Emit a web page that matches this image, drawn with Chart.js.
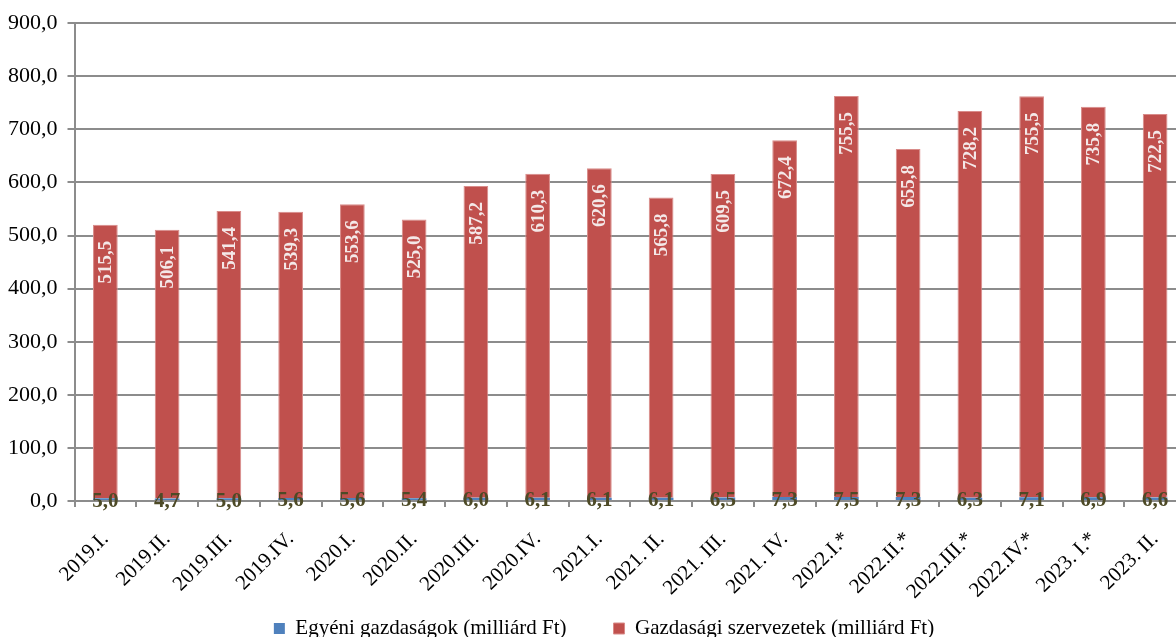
<!DOCTYPE html>
<html>
<head>
<meta charset="utf-8">
<script src="https://cdn.jsdelivr.net/npm/chart.js@4"></script>
<style>
  html, body { margin: 0; padding: 0; background: #fff; overflow: hidden; }
  #wrap { width: 1190px; height: 637px; position: relative; }
</style>
</head>
<body>
<div id="wrap"><canvas id="c"></canvas></div>
<script>
const categories = ['2019.I.', '2019.II.', '2019.III.', '2019.IV.', '2020.I.', '2020.II.', '2020.III.', '2020.IV.', '2021.I.', '2021. II.', '2021. III.', '2021. IV.', '2022.I.*', '2022.II.*', '2022.III.*', '2022.IV.*', '2023. I.*', '2023. II.'];
const egyeniValues = [5.0, 4.7, 5.0, 5.6, 5.6, 5.4, 6.0, 6.1, 6.1, 6.1, 6.5, 7.3, 7.5, 7.3, 6.3, 7.1, 6.9, 6.6];
const gazdValues = [515.5, 506.1, 541.4, 539.3, 553.6, 525.0, 587.2, 610.3, 620.6, 565.8, 609.5, 672.4, 755.5, 655.8, 728.2, 755.5, 735.8, 722.5];
const seriesNames = ['Egyéni gazdaságok (milliárd Ft)', 'Gazdasági szervezetek (milliárd Ft)'];
const yMin = 0, yMax = 900, yStep = 100;

const SERIF = "'Liberation Serif', 'Times New Roman', serif";
const fmt = v => v.toFixed(1).replace('.', ',');

const labelPlugin = {
  id: 'valueLabels',
  afterLayout(chart) {
    chart.scales.x._computeLabelArea = () => undefined;
    if (chart.legend) { chart.legend.left += 12; chart.legend.right += 12; }
  },
  afterDatasetsDraw(chart) {
    const ctx = chart.ctx;
    ctx.save();
    const m0 = chart.getDatasetMeta(0);
    ctx.font = 'bold 21px ' + SERIF;
    ctx.fillStyle = '#4d4a26';
    ctx.textAlign = 'center';
    ctx.textBaseline = 'middle';
    m0.data.forEach((bar, i) => {
      const y = (bar.y + bar.base) / 2 + 2;
      ctx.fillText(fmt(chart.data.datasets[0].data[i]), bar.x, y);
    });
    const m1 = chart.getDatasetMeta(1);
    ctx.font = 'bold 19px ' + SERIF;
    ctx.fillStyle = '#f4e8e8';
    m1.data.forEach((bar, i) => {
      ctx.save();
      ctx.translate(bar.x, bar.y + 16);
      ctx.rotate(-Math.PI / 2);
      ctx.textAlign = 'right';
      ctx.textBaseline = 'middle';
      ctx.fillText(fmt(chart.data.datasets[1].data[i]), 0, 1);
      ctx.restore();
    });
    ctx.restore();
  }
};

new Chart(document.getElementById('c'), {
  type: 'bar',
  data: {
    labels: categories,
    datasets: [
      { label: seriesNames[0], data: egyeniValues, backgroundColor: '#4F81BD', borderWidth: 0,
        barPercentage: 0.4, categoryPercentage: 1.0 },
      { label: seriesNames[1], data: gazdValues, backgroundColor: '#C0504D', borderColor: '#d98c8a', borderWidth: 1,
        barPercentage: 0.4, categoryPercentage: 1.0 }
    ]
  },
  options: {
    responsive: true,
    maintainAspectRatio: false,
    animation: false,
    devicePixelRatio: 1,
    layout: { padding: { left: -2, right: 4, top: 12, bottom: -12 } },
    plugins: {
      legend: {
        position: 'bottom',
        labels: {
          font: { family: SERIF, size: 21 },
          color: '#000',
          boxWidth: 11,
          boxHeight: 11,
          padding: 47
        }
      },
      tooltip: { enabled: false }
    },
    scales: {
      x: {
        stacked: true,
        grid: { display: true, drawOnChartArea: false, drawTicks: true, tickLength: 6, color: '#8c8c8c', lineWidth: 2, offset: true },
        border: { display: true, color: '#8c8c8c', width: 2 },
        ticks: { font: { family: SERIF, size: 21 }, color: '#000', minRotation: 45, maxRotation: 45, autoSkip: false, padding: 20 },
        afterFit: (scale) => { scale.height = 70; scale.paddingLeft = 0; scale.paddingRight = 0; }
      },
      y: {
        stacked: true,
        min: yMin, max: yMax,
        ticks: { stepSize: yStep, font: { family: SERIF, size: 22 }, color: '#000', padding: 10,
          callback: v => fmt(v) },
        grid: { color: '#8c8c8c', lineWidth: 2, tickLength: 7 },
        border: { display: true, color: '#8c8c8c', width: 2 }
      }
    }
  },
  plugins: [labelPlugin]
});
</script>
</body>
</html>
